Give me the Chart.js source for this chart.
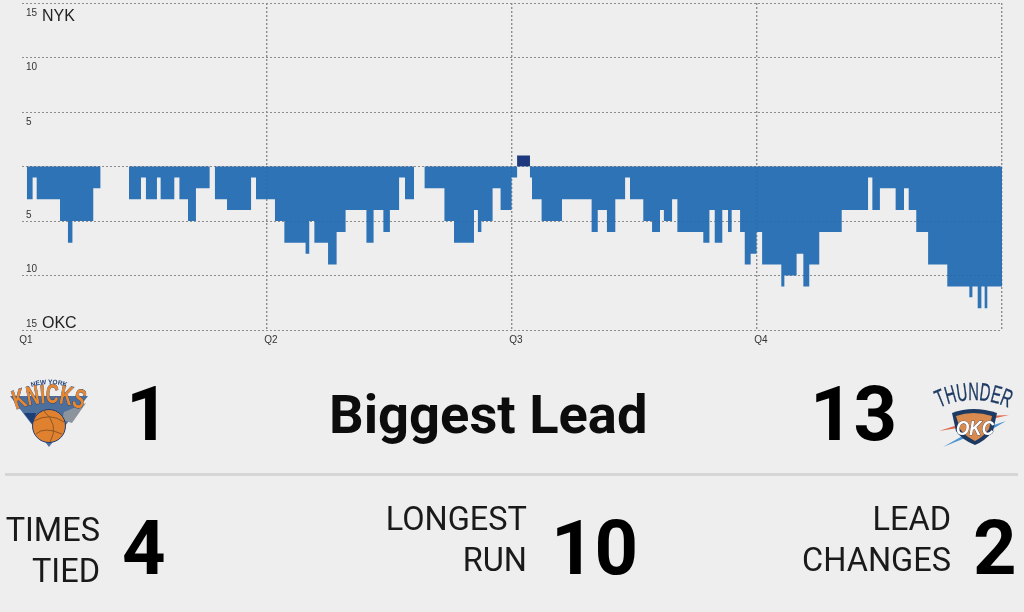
<!DOCTYPE html>
<html>
<head>
<meta charset="utf-8">
<title>Biggest Lead</title>
<script src="https://cdn.jsdelivr.net/npm/chart.js@4"></script>
<style>
    html, body { margin: 0; padding: 0; background: #eeeeee; }
    body { position: relative; width: 1024px; height: 612px; overflow: hidden; font-family: Roboto, sans-serif; color: #000; }
    #leadChart { position: absolute; left: 0; top: 0; }
    #logos { position: absolute; left: 0; top: 0; }
    .team { position: absolute; left: 42px; font: 16px "Liberation Sans", sans-serif; color: #222; line-height: 18px; }
    .num { position: absolute; font-weight: 700; font-size: 76px; line-height: 77px; white-space: nowrap; }
    .title { position: absolute; left: 329px; top: 384px; font-weight: 700; font-size: 54.3px; line-height: 62px; white-space: nowrap; color: #0c0c0c; }
    .stat { position: absolute; text-align: right; font-size: 32.5px; line-height: 41px; color: #1a1a1a; white-space: nowrap; }
    .rule { position: absolute; left: 5px; top: 473px; width: 1013px; height: 3px; background: #d6d6d6; }
</style>
</head>
<body>
<canvas id="leadChart" width="1024" height="350"></canvas>
<div class="team" style="top:7px">NYK</div>
<div class="team" style="top:314px">OKC</div>

<svg id="logos" width="1024" height="612" viewBox="0 0 1024 612">
    <!-- knicks -->
    <polygon points="10,396 88,396 49,447" fill="#4c6f9c"/>
    <polygon points="24,413 36,413 33,425" fill="#1d3f78"/>
    <polygon points="64,412 86,403 72,423 62,420" fill="#8b949c"/>
    <path id="knicksArc" d="M15 410 Q49 396 83 410" fill="none"/>
    <path id="nyArc" d="M24 390 Q49 378 74 390" fill="none"/>
    <text font-family="Liberation Sans" font-weight="700" font-size="6.5" fill="#1d3f78"><textPath href="#nyArc" startOffset="50%" text-anchor="middle">NEW YORK</textPath></text>
    <text font-family="Liberation Sans Narrow, Liberation Sans" font-weight="700" font-size="27" fill="#e8862e" stroke="#1d3f78" stroke-width="0.8" paint-order="stroke"><textPath href="#knicksArc" startOffset="50%" text-anchor="middle" textLength="68" lengthAdjust="spacingAndGlyphs">KNICKS</textPath></text>
    <circle cx="49" cy="426" r="16.5" fill="#e0812f" stroke="#1d3f78" stroke-width="1"/>
    <path d="M34 421 Q50 412 64 422 M43 410 Q60 425 50 442 M36 434 Q44 426 62 434" fill="none" stroke="#7a4a20" stroke-width="0.8"/>
    <!-- thunder -->
    <path id="thunderArc" d="M939 408 Q973 392 1009 408" fill="none"/>
    <text font-family="Liberation Sans Narrow, Liberation Sans" font-size="25" fill="#1d3a63" stroke="#1d3a63" stroke-width="0.3"><textPath href="#thunderArc" startOffset="50%" text-anchor="middle" textLength="72" lengthAdjust="spacingAndGlyphs">THUNDER</textPath></text>
    <polygon points="939,431 964,423 964,427" fill="#e2694a"/>
    <polygon points="943,447 966,434 970,436" fill="#4d93d0"/>
    <polygon points="987,416 1009,415 987,420" fill="#e2694a"/>
    <polygon points="982,429 1006,421 984,434" fill="#4d93d0"/>
    <path d="M952 413 Q973 405 997 413 L993 431 Q985 441 975 445 Q962 440 956 431 Z" fill="#1d3a63"/>
    <path d="M956 416 Q973 410 992 416 L989 429 Q983 437 975 441 Q965 436 960 429 Z" fill="#d98a4e"/>
    <text x="975" y="435" text-anchor="middle" font-family="Liberation Sans" font-style="italic" font-weight="700" font-size="21" textLength="38" lengthAdjust="spacingAndGlyphs" fill="#fff" stroke="#1d3a63" stroke-width="0.7" paint-order="stroke">OKC</text>
</svg>

<div class="num" style="left:126px;top:376px">1</div>
<div class="title">Biggest Lead</div>
<div class="num" style="left:810px;top:376px">13</div>
<div class="rule"></div>

<div class="stat" style="right:924px;top:510px">TIMES<br>TIED</div>
<div class="num" style="left:122px;top:510px">4</div>
<div class="stat" style="right:497px;top:499px">LONGEST<br>RUN</div>
<div class="num" style="left:551px;top:510px">10</div>
<div class="stat" style="right:73px;top:499px">LEAD<br>CHANGES</div>
<div class="num" style="left:973px;top:510px">2</div>

<script>
// game clock in minutes where each score margin starts
const gameMinutes = [
    0.23, 0.52, 0.72, 1.86, 2.25, 2.47, 3.49, 3.84, 5.24, 5.83, 6.07, 6.61, 6.79, 7.46, 7.71, 8.13, 8.52, 9.19, 9.45, 10.04, 11.22, 11.46,
    12.39, 12.85, 13.89, 14.07, 14.32, 14.99, 15.41, 15.85, 16.87, 17.22, 17.70, 18.02, 18.47, 18.76, 19.20, 19.72, 20.69, 21.16, 22.14, 22.33, 22.50, 23.05, 23.44, 23.98,
    24.25, 24.88, 24.98, 25.45, 26.45, 27.90, 28.20, 28.65, 29.06, 29.54, 29.78, 30.43, 30.86, 31.25, 31.44, 31.84, 32.10, 33.37, 33.67, 33.93, 34.30, 34.58, 34.76, 35.17, 35.40, 35.69, 35.98,
    36.25, 37.19, 37.34, 37.94, 38.27, 38.56, 39.05, 40.15, 41.44, 41.65, 42.02, 42.79, 43.20, 43.43, 43.80, 44.38, 45.32, 46.40, 46.55, 46.81, 46.99, 47.15, 47.28, 48
];

// NYK lead is positive, OKC lead is negative
const scoreMargin = [
    -3, -1, -3, -5, -7, -5, -2, 0, -3, -1, -3, -1, -3, -1, -3, -5, -2, 0, -3, -4, -1, -3,
    -5, -7, -8, -5, -7, -9, -6, -4, -7, -4, -6, -4, -1, -3, 0, -2, -5, -7, -4, -6, -5, -2, -4, -1,
    1, -1, -3, -5, -3, -6, -4, -6, -3, -1, -3, -5, -6, -4, -5, -3, -6, -7, -4, -7, -4, -6, -4, -6, -9, -8, -6,
    -9, -11, -10, -8, -11, -9, -6, -4, -1, -4, -2, -4, -2, -4, -6, -9, -11, -12, -11, -13, -11, -13, -11, -11
];

const quarterLabels = ['Q1', 'Q2', 'Q3', 'Q4', ''];

const gridColor = '#8c8c8c';

document.addEventListener('DOMContentLoaded', function() {
    const ctx = document.getElementById('leadChart').getContext('2d');

    new Chart(ctx, {
        type: 'line',
        data: {
            datasets: [{
                label: 'Score margin',
                data: gameMinutes.map((m, i) => ({ x: m, y: scoreMargin[i] })),
                stepped: 'before',
                borderWidth: 0,
                borderColor: 'rgba(0,0,0,0)',
                pointRadius: 0,
                fill: { target: 'origin', above: 'rgba(20,48,120,0.96)', below: 'rgba(32,105,179,0.93)' }
            }]
        },
        options: {
            responsive: false,
            animation: false,
            layout: { autoPadding: false, padding: { left: 22, right: 22, top: 3, bottom: 0 } },
            plugins: { legend: { display: false }, tooltip: { enabled: false } },
            scales: {
                x: {
                    type: 'linear',
                    min: 0,
                    max: 48,
                    afterFit: function(scale) { scale.height = 20; scale.paddingLeft = 0; scale.paddingRight = 0; },
                    border: { display: false, dash: [2, 2] },
                    grid: {
                        drawTicks: false,
                        lineWidth: 1.4,
                        color: (c) => c.tick.value === 0 ? 'rgba(0,0,0,0)' : gridColor
                    },
                    ticks: {
                        stepSize: 12,
                        maxRotation: 0,
                        padding: 4,
                        labelOffset: 4,
                        color: '#333',
                        font: { family: 'Liberation Sans', size: 10 },
                        callback: (value) => quarterLabels[value / 12]
                    }
                },
                y: {
                    min: -15,
                    max: 15,
                    // tall two line labels would otherwise push the plot area down
                    afterFit: function(scale) { scale.width = 0; scale.paddingTop = 0; scale.paddingBottom = 0; },
                    border: { display: false, dash: [2, 2] },
                    grid: { drawTicks: false, color: gridColor, lineWidth: 1 },
                    ticks: {
                        stepSize: 5,
                        mirror: true,
                        padding: 4,
                        color: '#333',
                        font: (c) => ({ family: 'Liberation Sans', size: 10, lineHeight: c.tick && c.tick.value > 0 ? 2.0 : 1.25 }),
                        // blank line pushes the number below or above its gridline
                        callback: function(value) {
                            if (value === 0) return '';
                            return value > 0 ? ['', String(value)] : [String(-value), ''];
                        }
                    }
                }
            }
        }
    });
});
</script>
</body>
</html>
